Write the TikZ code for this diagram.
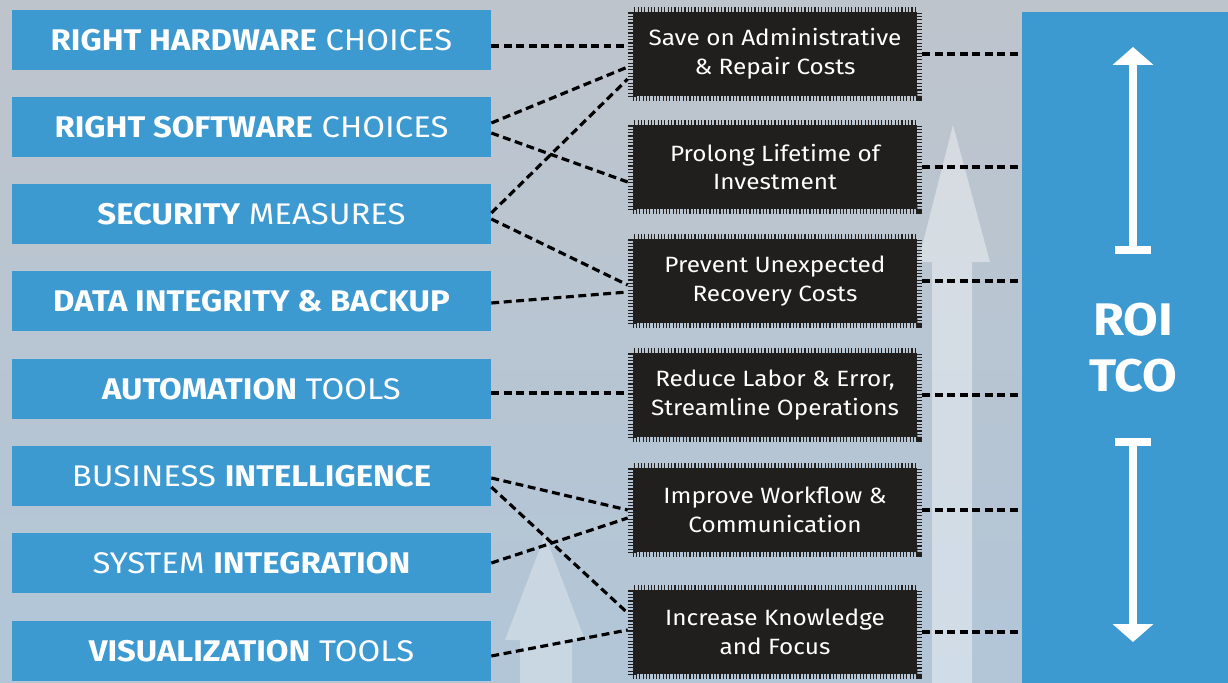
\documentclass[tikz,border=0pt]{standalone}
\usepackage{fontspec}
\setmainfont{Fira Sans}[FakeStretch=1.1]
\usetikzlibrary{arrows.meta,calc}

\definecolor{tileblue}{RGB}{61,154,209}
\definecolor{chipdark}{RGB}{32,31,30}
\definecolor{phototop}{RGB}{190,196,204}
\definecolor{photobot}{RGB}{178,198,216}

\begin{document}
\begin{tikzpicture}[x=0.02cm, y=-0.02cm,
    factor/.style={fill=tileblue, text=white, minimum width=9.58cm, minimum height=1.2cm,
      inner sep=0pt, font=\fontsize{17}{19}\selectfont},
    benefit/.style={fill=chipdark, draw=chipdark, line width=5.5pt, dash pattern=on 0.7pt off 1.2pt,
      text=white, minimum width=5.7cm, minimum height=1.68cm, align=center,
      font=\fontsize{12.6}{16.5}\selectfont},
    link/.style={black, line width=1.8pt, dash pattern=on 4.5pt off 2.6pt}]

    % Background
    \useasboundingbox (0,0) rectangle (1228,683);
    \shade[top color=phototop, bottom color=photobot] (0,0) rectangle (1228,683);
    \fill[white, opacity=0.4] (953,125) -- (990,262) -- (972,262) -- (972,683) -- (932,683) -- (932,262) -- (918,262) -- cycle;
    \fill[white, opacity=0.3] (545,535) -- (585,640) -- (572,640) -- (572,683) -- (520,683) -- (520,640) -- (505,640) -- cycle;

    % Factors
    \node[factor] (hw)   at (251.5,40)  {{\bfseries RIGHT HARDWARE} CHOICES};
    \node[factor] (sw)   at (251.5,127) {{\bfseries RIGHT SOFTWARE} CHOICES};
    \node[factor] (sec)  at (251.5,214) {{\bfseries SECURITY} MEASURES};
    \node[factor] (data) at (251.5,301) {\bfseries DATA INTEGRITY \& BACKUP};
    \node[factor] (auto) at (251.5,389) {{\bfseries AUTOMATION} TOOLS};
    \node[factor] (bi)   at (251.5,476) {BUSINESS {\bfseries INTELLIGENCE}};
    \node[factor] (sys)  at (251.5,563) {SYSTEM {\bfseries INTEGRATION}};
    \node[factor] (vis)  at (251.5,651) {{\bfseries VISUALIZATION} TOOLS};

    % Benefits
    \node[benefit] (admin) at (775,54)  {Save on Administrative\\\& Repair Costs};
    \node[benefit] (life)  at (775,167) {Prolong Lifetime of\\Investment};
    \node[benefit] (recov) at (775,281) {Prevent Unexpected\\Recovery Costs};
    \node[benefit] (labor) at (775,395) {Reduce Labor \& Error,\\Streamline Operations};
    \node[benefit] (flow)  at (775,510) {Improve Workflow \&\\Communication};
    \node[benefit] (focus) at (775,632) {Increase Knowledge\\and Focus};

    % ROI / TCO
    \node[fill=tileblue, text=white, minimum width=4.44cm, minimum height=13.42cm, align=center,
      font=\fontsize{26}{32}\bfseries] (roi) at (1133,347.5) {ROI\\TCO};
    \coordinate (upTip)  at (1133,47);
    \coordinate (upEnd)  at (1133,254);
    \coordinate (dnEnd)  at (1133,438);
    \coordinate (dnTip)  at (1133,642);
    \draw[white, line width=4.5pt, {Bar[width=0.72cm]}-{Triangle[width=0.8cm, length=0.36cm]}] (upEnd) -- (upTip);
    \draw[white, line width=4.5pt, {Bar[width=0.72cm]}-{Triangle[width=0.8cm, length=0.36cm]}] (dnEnd) -- (dnTip);

    % Factors to benefits
    \draw[link] ($(hw.east)+(0,6)$)   -- ($(admin.west)+(0,-8)$);
    \draw[link] ($(sw.east)+(0,-4)$)  -- ($(admin.west)+(0,13)$);
    \draw[link] ($(sw.east)+(0,6)$)   -- ($(life.west)+(0,15)$);
    \draw[link] ($(sec.east)+(0,-1)$) -- ($(admin.west)+(0,25)$);
    \draw[link] ($(sec.east)+(0,5)$)  -- ($(recov.west)+(0,4)$);
    \draw[link] ($(data.east)+(0,2)$) -- ($(recov.west)+(0,11)$);
    \draw[link] ($(auto.east)+(0,4)$) -- ($(labor.west)+(0,-2)$);
    \draw[link] ($(bi.east)+(0,2)$)   -- ($(flow.west)+(0,0)$);
    \draw[link] ($(bi.east)+(0,11)$)  -- ($(focus.west)+(0,-19)$);
    \draw[link] ($(sys.east)+(0,0)$)  -- ($(flow.west)+(0,8)$);
    \draw[link] ($(vis.east)+(0,5)$)  -- ($(focus.west)+(0,-2)$);

    % Benefits to ROI / TCO
    \foreach \b in {admin,life,recov,labor,flow,focus}
      \draw[link] (\b.east) -- (\b.east -| roi.west);
\end{tikzpicture}
\end{document}
